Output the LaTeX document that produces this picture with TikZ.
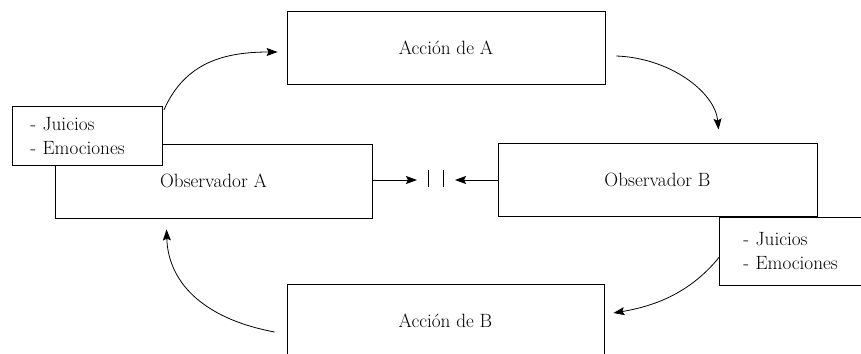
\documentclass[tikz,border=0pt]{standalone}
\usepackage{fontspec}
\usetikzlibrary{arrows.meta,calc}
\begin{document}
\begin{tikzpicture}[x=1pt,y=-1pt,
  every node/.style={font=\fontsize{19.2}{24}\selectfont},
  bigbox/.style={draw, line width=0.9pt, fill=white, minimum width=#1, minimum height=74pt, inner sep=0pt},
  jbox/.style={draw, line width=0.9pt, fill=white, align=left, anchor=north west},
  arr/.style={line width=0.8pt, -{Stealth[length=11pt,width=8pt,inset=2pt]}}
]
\useasboundingbox (0,0) rectangle (861,353);
\clip (0,0) rectangle (861,353);

\node[bigbox=318pt, minimum height=73pt] (accA) at (446,47.5) {Acción de A};
\node[bigbox=317pt] (obsA) at (213.5,181) {Observador A};
\node[bigbox=319pt, minimum height=73pt] (obsB) at (657.5,179.5) {Observador B};
\node[bigbox=317pt] (accB) at (445.5,321) {Acción de B};

\node[jbox, text width=114pt, inner xsep=18pt, inner ysep=0pt, minimum height=59pt] (jA) at (12,106) {- Juicios\\- Emociones};
\node[jbox, text width=102pt, inner xsep=24pt, inner ysep=0pt, minimum height=68pt] (jB) at (719,217) {- Juicios\\- Emociones};

% middle
\coordinate (tipL) at (417,180);
\coordinate (tipR) at (455,180);
\coordinate (bar1t) at (428,170);
\coordinate (bar1b) at (428,187);
\coordinate (bar2t) at (443,170);
\coordinate (bar2b) at (443,187);
\draw[arr] (obsA.east |- tipL) -- (tipL);
\draw[arr] (obsB.west |- tipR) -- (tipR);
\draw[line width=0.9pt] (bar1t) -- (bar1b) (bar2t) -- (bar2b);

% curves
\coordinate (c1s) at ($(jA.north east)+(1,4)$);
\coordinate (c1e) at ($(accA.west)+(-9,4.5)$);
\draw[arr] (c1s) .. controls (185,62) and (225,52) .. (c1e);

\coordinate (c2s) at ($(accA.east)+(11,8.5)$);
\coordinate (c2e) at ($(obsB.north west)+(221,-13)$);
\draw[arr] (c2s) .. controls (670,58) and (715,92) .. (c2e);

\coordinate (c3s) at ($(jB.west)+(0,6)$);
\coordinate (c3e) at ($(accB.east)+(9,-8)$);
\draw[arr] (c3s) .. controls (690,293) and (655,306) .. (c3e);

\coordinate (c4s) at ($(accB.west)+(-12,11)$);
\coordinate (c4e) at ($(obsA.south west)+(112,11)$);
\draw[arr] (c4s) .. controls (200,318) and (168,280) .. (c4e);
\end{tikzpicture}
\end{document}
